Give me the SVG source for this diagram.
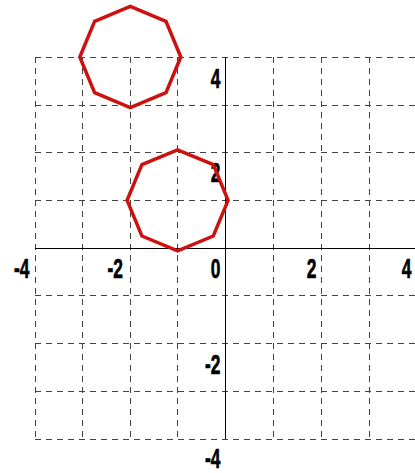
<svg xmlns="http://www.w3.org/2000/svg" width="415" height="473" viewBox="0 0 415 473">
<style>
.grid{stroke:#444;stroke-width:1;stroke-dasharray:6 5;fill:none}
.axis{stroke:#000;stroke-width:1;fill:none}
.lbl{font-family:"Liberation Sans",Arial,sans-serif;font-weight:bold;font-size:28px;fill:#000;stroke:#000;stroke-width:0.7;text-anchor:end}
.oct{fill:none;stroke:#cc1111;stroke-width:3.5;stroke-linejoin:miter}
</style>
<rect width="415" height="473" fill="#fff"/>
<g id="grid">
<path class="grid" d="M35.5 57V439M82.5 57V439M130.5 57V439M177.5 57V439M273.5 57V439M321.5 57V439M369.5 57V439"/>
<path class="grid" d="M35 57.5H416M35 105.5H416M35 152.5H416M35 200.5H416M35 295.5H416M35 343.5H416M35 391.5H416M35 439.5H416"/>
</g>
<g id="axes">
<path class="axis" d="M35 248.5H416"/>
<path class="axis" d="M225.5 57V439"/>
</g>
<g id="labels">
<g transform="translate(29.5,278) scale(0.62,1)"><text class="lbl">-4</text></g>
<g transform="translate(123,278) scale(0.62,1)"><text class="lbl">-2</text></g>
<g transform="translate(220.5,278) scale(0.62,1)"><text class="lbl">0</text></g>
<g transform="translate(316.5,278) scale(0.62,1)"><text class="lbl">2</text></g>
<g transform="translate(411.5,278) scale(0.62,1)"><text class="lbl">4</text></g>
<g transform="translate(220.5,88) scale(0.62,1)"><text class="lbl">4</text></g>
<g transform="translate(220.5,182) scale(0.62,1)"><text class="lbl">2</text></g>
<g transform="translate(220.5,373.5) scale(0.62,1)"><text class="lbl">-2</text></g>
<g transform="translate(220.5,468) scale(0.62,1)"><text class="lbl">-4</text></g>
</g>
<g id="octagon-upper">
<polygon class="oct" points="180.8,57 166,21.3 130.3,6.5 94.6,21.3 79.8,57 94.6,92.7 130.3,107.5 166,92.7"/>
</g>
<g id="octagon-lower">
<polygon class="oct" points="228.1,200.3 213.3,164.6 177.6,149.8 141.9,164.6 127.1,200.3 141.9,236 177.6,250.8 213.3,236"/>
</g>
</svg>
